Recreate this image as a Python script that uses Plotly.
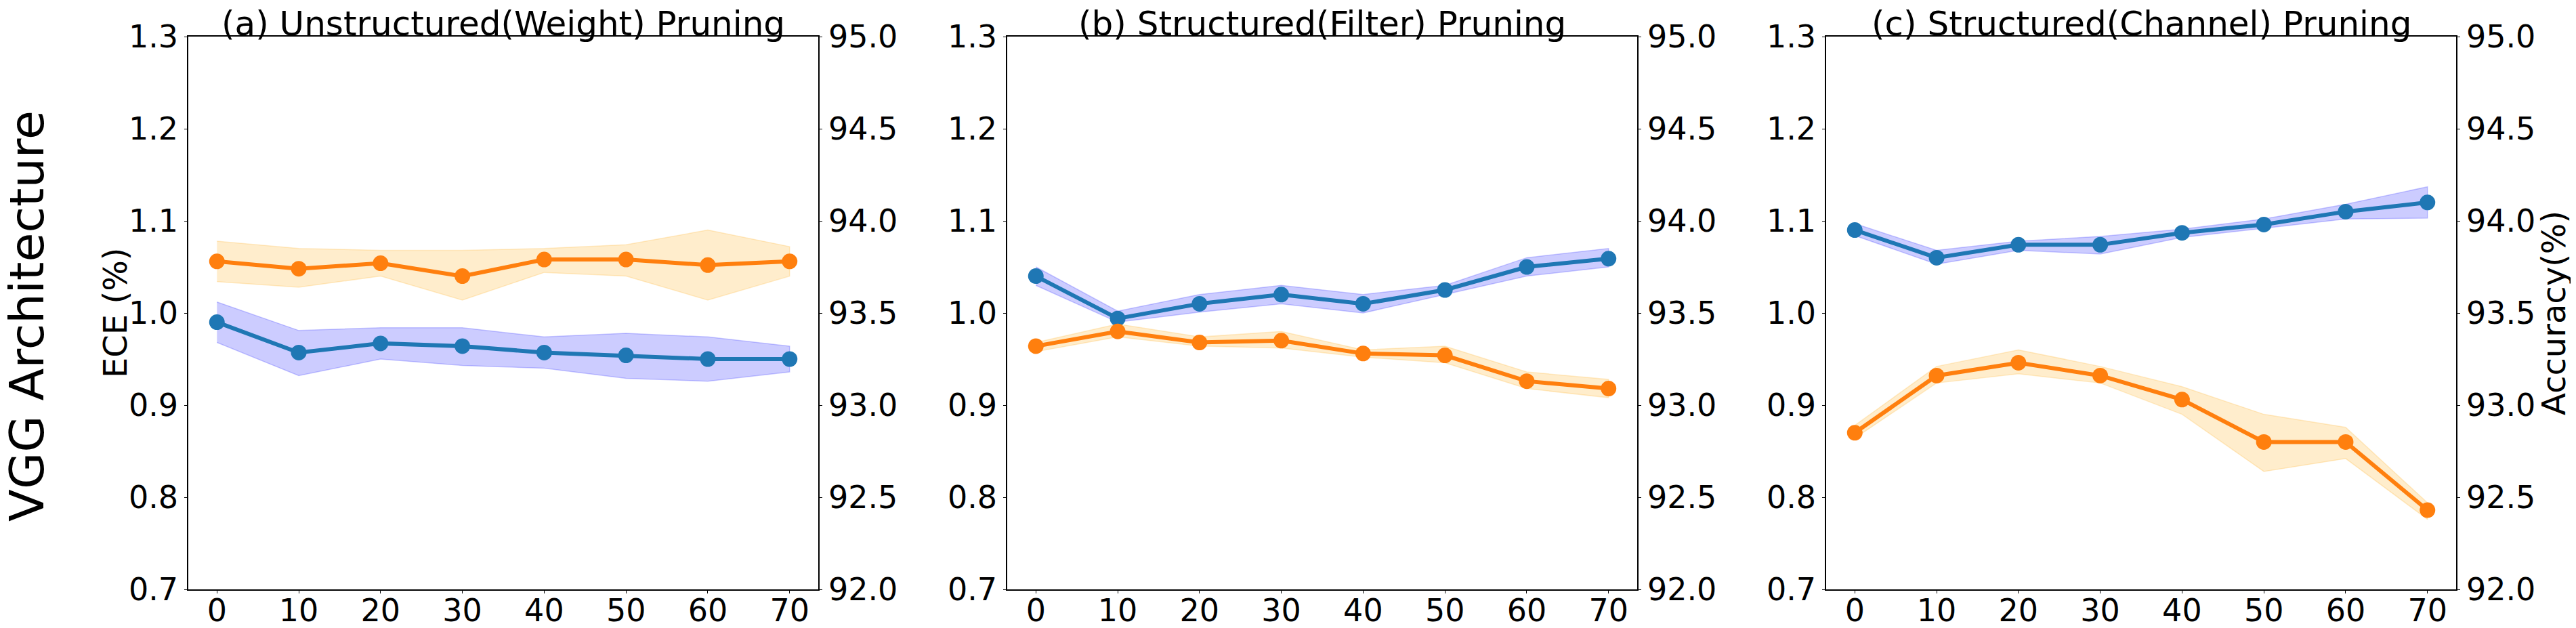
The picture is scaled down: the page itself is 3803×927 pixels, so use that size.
import plotly.graph_objects as go

# pruning ratio (%)
prune_rates = [0, 10, 20, 30, 40, 50, 60, 70]

# (a) unstructured (weight) pruning
ece_a = [0.990, 0.957, 0.967, 0.964, 0.957, 0.954, 0.950, 0.950]
ece_a_hi = [1.012, 0.981, 0.984, 0.984, 0.974, 0.978, 0.974, 0.964]
ece_a_lo = [0.968, 0.932, 0.950, 0.943, 0.940, 0.929, 0.926, 0.936]
acc_a = [93.78, 93.74, 93.77, 93.70, 93.79, 93.79, 93.76, 93.78]
acc_a_hi = [93.89, 93.85, 93.84, 93.84, 93.85, 93.87, 93.95, 93.86]
acc_a_lo = [93.67, 93.64, 93.70, 93.57, 93.72, 93.70, 93.57, 93.70]

# (b) structured (filter) pruning
ece_b = [1.040, 0.994, 1.010, 1.020, 1.010, 1.025, 1.050, 1.059]
ece_b_hi = [1.050, 1.002, 1.020, 1.030, 1.020, 1.030, 1.060, 1.070]
ece_b_lo = [1.030, 0.990, 1.001, 1.010, 1.000, 1.020, 1.040, 1.050]
acc_b = [93.32, 93.40, 93.34, 93.35, 93.28, 93.27, 93.13, 93.09]
acc_b_hi = [93.34, 93.44, 93.37, 93.40, 93.30, 93.32, 93.18, 93.14]
acc_b_lo = [93.29, 93.37, 93.32, 93.31, 93.26, 93.23, 93.09, 93.04]

# (c) structured (channel) pruning
ece_c = [1.090, 1.060, 1.074, 1.074, 1.087, 1.096, 1.110, 1.120]
ece_c_hi = [1.097, 1.068, 1.078, 1.083, 1.091, 1.102, 1.118, 1.137]
ece_c_lo = [1.084, 1.053, 1.068, 1.064, 1.082, 1.092, 1.102, 1.103]
acc_c = [92.85, 93.16, 93.23, 93.16, 93.03, 92.80, 92.80, 92.43]
acc_c_hi = [92.89, 93.21, 93.30, 93.21, 93.10, 92.95, 92.88, 92.47]
acc_c_lo = [92.82, 93.12, 93.17, 93.12, 92.95, 92.64, 92.71, 92.38]

titles = [
    "(a) Unstructured(Weight) Pruning",
    "(b) Structured(Filter) Pruning",
    "(c) Structured(Channel) Pruning",
]
ece_ticks = [0.7, 0.8, 0.9, 1.0, 1.1, 1.2, 1.3]
acc_ticks = [92.0, 92.5, 93.0, 93.5, 94.0, 94.5, 95.0]

# the page body keeps its default 8px margin, so the figure is made
# that much smaller and all pixel positions below are page pixels
OFF = 8
W, H = 3803 - OFF, 927 - OFF
FONT = "DejaVu Sans"
BLUE = "#1f77b4"
ORANGE = "#ff7f0e"
BLUE_FILL = "rgba(0,0,255,0.2)"
ORANGE_FILL = "rgba(255,165,0,0.2)"


def px_x(p):
    return (p - OFF) / W


def px_y(p):
    return 1 - (p - OFF) / H


panels = [
    (ece_a, ece_a_lo, ece_a_hi, acc_a, acc_a_lo, acc_a_hi),
    (ece_b, ece_b_lo, ece_b_hi, acc_b, acc_b_lo, acc_b_hi),
    (ece_c, ece_c_lo, ece_c_hi, acc_c, acc_c_lo, acc_c_hi),
]
# plot area edges in page pixels
left_px = [278, 1487, 2696]
plot_w = 930
top_px, bottom_px = 54, 870
y_dom = [px_y(bottom_px), px_y(top_px)]


def band(x, lo, hi, fill, xa, ya):
    return go.Scatter(
        x=list(x) + list(x)[::-1],
        y=list(hi) + list(lo)[::-1],
        fill="toself",
        fillcolor=fill,
        line=dict(color=fill, width=1.5),
        mode="lines",
        hoverinfo="skip",
        showlegend=False,
        xaxis=xa,
        yaxis=ya,
    )


def line(x, y, color, xa, ya):
    return go.Scatter(
        x=x,
        y=y,
        mode="lines+markers",
        line=dict(color=color, width=6),
        marker=dict(color=color, size=23),
        showlegend=False,
        xaxis=xa,
        yaxis=ya,
    )


def axis_style(**kw):
    d = dict(
        ticks="outside",
        ticklen=4,
        tickcolor="black",
        showline=True,
        linecolor="black",
        linewidth=1.5,
        showgrid=False,
        zeroline=False,
        automargin=False,
        tickfont=dict(family=FONT, size=46, color="black"),
    )
    d.update(kw)
    return d


fig = go.Figure()
layout = {}
annotations = []

for i, (ece, ece_lo, ece_hi, acc, acc_lo, acc_hi) in enumerate(panels):
    xa = "x" if i == 0 else f"x{i + 1}"
    ya_l = "y" if i == 0 else f"y{2 * i + 1}"
    ya_r = f"y{2 * i + 2}"

    fig.add_trace(band(prune_rates, ece_lo, ece_hi, BLUE_FILL, xa, ya_l))
    fig.add_trace(line(prune_rates, ece, BLUE, xa, ya_l))
    fig.add_trace(band(prune_rates, acc_lo, acc_hi, ORANGE_FILL, xa, ya_r))
    fig.add_trace(line(prune_rates, acc, ORANGE, xa, ya_r))

    x0 = px_x(left_px[i])
    x1 = px_x(left_px[i] + plot_w)
    xkey = "xaxis" if i == 0 else f"xaxis{i + 1}"
    ykey_l = "yaxis" if i == 0 else f"yaxis{2 * i + 1}"
    ykey_r = f"yaxis{2 * i + 2}"

    layout[xkey] = axis_style(
        domain=[x0, x1],
        anchor=ya_l,
        range=[-3.5, 73.5],
        tickvals=prune_rates,
        mirror=True,
        ticklabelstandoff=-14,
    )
    layout[ykey_l] = axis_style(
        domain=y_dom,
        anchor=xa,
        range=[0.7, 1.3],
        tickvals=ece_ticks,
        tickformat=".1f",
    )
    layout[ykey_r] = axis_style(
        domain=y_dom,
        anchor=xa,
        overlaying=ya_l,
        side="right",
        range=[92.0, 95.0],
        tickvals=acc_ticks,
        tickformat=".1f",
    )

    annotations.append(
        dict(
            text=titles[i],
            x=(x0 + x1) / 2,
            y=px_y(35),
            font=dict(family=FONT, size=50, color="black"),
        )
    )

mid_y = px_y((top_px + bottom_px) / 2)
annotations += [
    dict(text="VGG Architecture", x=px_x(40), y=px_y(467), textangle=-90,
         font=dict(family=FONT, size=70, color="black")),
    dict(text="ECE (%)", x=px_x(170), y=mid_y, textangle=-90,
         font=dict(family=FONT, size=48, color="black")),
    dict(text="Accuracy(%)", x=px_x(3770), y=mid_y, textangle=-90,
         font=dict(family=FONT, size=48, color="black")),
]
for a in annotations:
    a.update(xref="paper", yref="paper", xanchor="center", yanchor="middle",
             showarrow=False)

fig.update_layout(
    width=W,
    height=H,
    autosize=False,
    margin=dict(l=0, r=0, t=0, b=0),
    paper_bgcolor="white",
    plot_bgcolor="white",
    annotations=annotations,
    **layout,
)

fig.write_html("out.html")
